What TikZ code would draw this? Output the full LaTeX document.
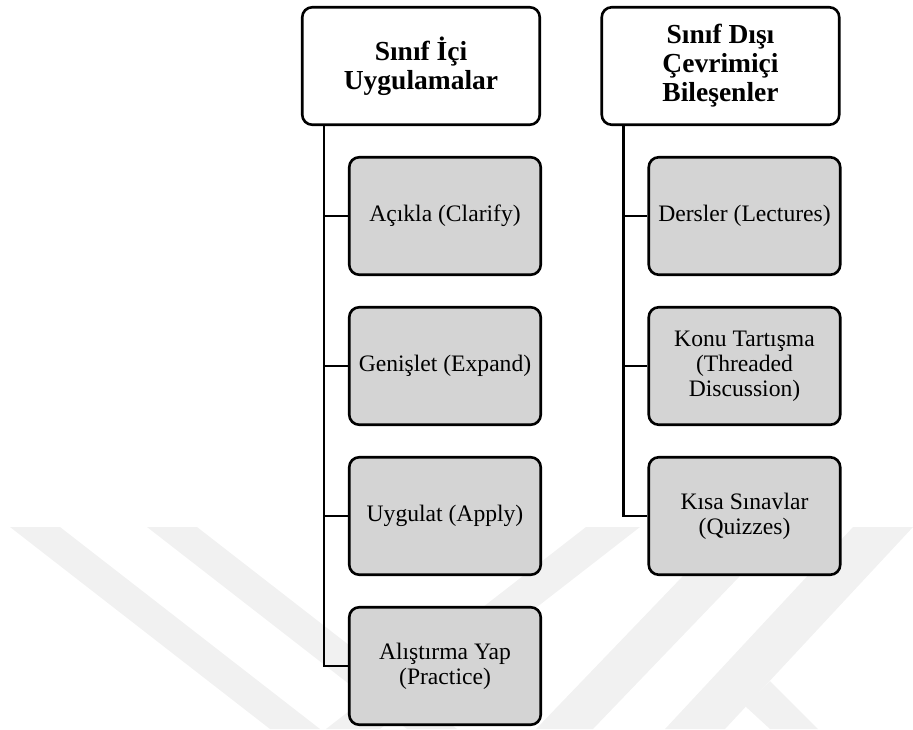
\documentclass[tikz,border=0pt]{standalone}
\usepackage{fontspec}
\setmainfont{Liberation Serif}
\usetikzlibrary{trees}
\usepackage{xcolor}
\definecolor{boxgray}{RGB}{212,212,212}
\definecolor{markgray}{RGB}{241,241,241}

\begin{document}
\begin{tikzpicture}[x=1pt,y=-1pt,line width=2.6pt,
  every node/.style={draw,rounded corners=10pt,align=center},
  head/.style={fill=white,minimum width=237.5pt,minimum height=117.5pt,font=\fontsize{27.5}{29}\selectfont\bfseries},
  item/.style={fill=boxgray,minimum width=191.5pt,minimum height=117.5pt,font=\fontsize{23.6}{25}\selectfont},
  grow via three points={one child at (24,150) and two children at (24,150) and (24,300)},
  edge from parent path={([xshift=23pt]\tikzparentnode.south west) |- (\tikzchildnode.west)}]

    \useasboundingbox (0,0) rectangle (913,729);

    % faint watermark in the background
    \fill[markgray] (10,527) -- (60,527) -- (320,729) -- (270,729) -- cycle;
    \fill[markgray] (147,527) -- (197,527) -- (457,729) -- (407,729) -- cycle;
    \fill[markgray] (586,527) -- (640,527) -- (380,729) -- (326,729) -- cycle;
    \fill[markgray] (730,527) -- (787,527) -- (593,729) -- (536,729) -- cycle;
    \fill[markgray] (853,527) -- (913,527) -- (725,729) -- (665,729) -- cycle;
    \fill[markgray] (745,706) -- (770,681) -- (818,729) -- (770,729) -- cycle;

    \node[head] (inclass) at (421,66) {Sınıf İçi\\Uygulamalar}
        child { node[item] (clarify) {Açıkla (Clarify)} }
        child { node[item] (expand) {Genişlet (Expand)} }
        child { node[item] (apply) {Uygulat (Apply)} }
        child { node[item] (practice) {Alıştırma Yap\\(Practice)} };

    \node[head] (online) at (720.5,66) {Sınıf Dışı\\Çevrimiçi\\Bileşenler}
        child { node[item] (lectures) {Dersler (Lectures)} }
        child { node[item] (discussion) {Konu Tartışma\\(Threaded\\Discussion)} }
        child { node[item] (quizzes) {Kısa Sınavlar\\(Quizzes)} };
\end{tikzpicture}
\end{document}
